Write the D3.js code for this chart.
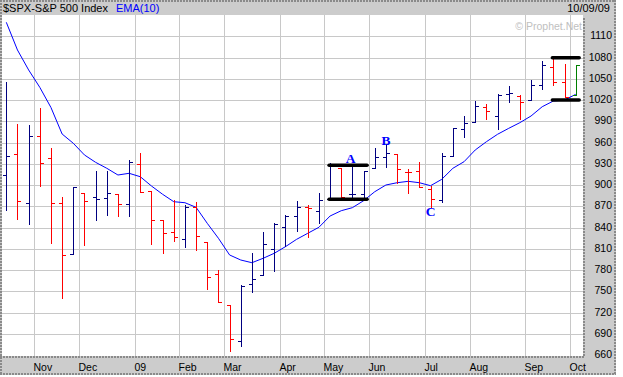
<!DOCTYPE html>
<html>
<head>
<meta charset="utf-8">
<script src="https://cdn.jsdelivr.net/npm/d3@7"></script>
<style>
  body { margin: 0; background: #fff; }
  svg { display: block; }
  text { font-family: "Liberation Sans", Arial, sans-serif; }
</style>
</head>
<body>
<div id="chart"></div>
<script>
// weekly bars, Oct 17 2008 .. Oct 9 2009
const opens  = [913.7, 943.3, 874.2, 968.8, 937.7, 874.2, 802.2, 888.3, 883.1, 881.6, 887.3, 872.8, 929.2, 891.1, 850.2, 833.2, 823.3, 869.4, 819.1, 774.4, 730.2, 679.8, 759.8, 772.5, 809.2, 840.3, 855.7, 869.4, 863.7, 879.8, 923.6, 887.3, 887.3, 923.6, 939.1, 943.8, 919.0, 920.2, 893.9, 878.8, 941.4, 978.6, 989.4, 1010.5, 997.8, 1028.0, 1025.6, 1019.6, 1041.2, 1066.2, 1045.0, 1027.1];
const highs  = [1045.0, 986.1, 984.7, 1008.7, 952.2, 883.5, 897.2, 888.3, 919.8, 919.8, 887.3, 935.3, 945.2, 891.1, 850.2, 878.8, 871.8, 876.0, 819.1, 780.0, 730.2, 758.8, 804.0, 833.6, 845.9, 857.6, 877.4, 871.8, 888.7, 930.6, 923.6, 927.8, 919.8, 951.8, 957.9, 943.8, 922.6, 932.0, 899.0, 944.7, 980.0, 997.4, 1018.6, 1014.4, 1028.5, 1039.8, 1027.1, 1048.2, 1075.1, 1078.9, 1070.8, 1069.4];
const lows   = [864.7, 852.4, 845.4, 899.0, 818.5, 740.9, 802.2, 815.7, 850.6, 857.6, 856.7, 856.7, 889.7, 817.1, 804.4, 821.4, 812.9, 807.8, 753.6, 734.8, 666.1, 673.1, 749.4, 772.5, 779.0, 813.9, 835.5, 827.0, 846.8, 879.8, 882.6, 882.6, 879.8, 923.6, 925.9, 902.4, 889.1, 896.8, 868.5, 875.6, 941.4, 968.2, 989.4, 992.8, 978.6, 1016.8, 992.8, 1019.6, 1035.1, 1041.2, 1023.8, 1027.1];
const closes = [940.5, 877.0, 968.8, 930.6, 874.2, 800.8, 897.2, 877.0, 879.8, 888.3, 872.8, 932.0, 889.7, 850.2, 831.8, 826.2, 869.4, 827.6, 770.1, 734.8, 683.0, 757.8, 767.7, 816.7, 844.9, 856.2, 869.4, 867.5, 878.8, 929.2, 882.6, 887.3, 919.8, 939.1, 944.7, 922.6, 918.5, 896.8, 879.8, 941.4, 980.0, 988.0, 1011.0, 1004.9, 1027.1, 1029.5, 1017.2, 1041.2, 1069.4, 1045.0, 1023.8, 1069.4];
const ema10  = [1129.7, 1090.6, 1062.4, 1037.9, 1009.4, 972.0, 958.9, 942.4, 932.0, 923.6, 914.1, 916.5, 911.7, 898.6, 886.9, 876.4, 875.0, 868.5, 845.9, 824.8, 801.2, 794.1, 790.3, 796.5, 803.6, 812.9, 823.3, 831.8, 840.3, 856.2, 863.7, 868.0, 877.8, 890.5, 900.0, 903.2, 905.2, 903.2, 899.0, 908.0, 923.6, 932.9, 949.4, 961.1, 971.6, 980.0, 988.0, 997.4, 1010.5, 1018.6, 1020.0, 1028.0];

// first weekly bar of each month, and its label
const monthLabels = ['Nov', 'Dec', '09', 'Feb', 'Mar', 'Apr', 'May', 'Jun', 'Jul', 'Aug', 'Sep', 'Oct'];
const monthStart  = [3, 7, 12, 16, 20, 25, 29, 33, 38, 42, 47, 51];
const priceTicks  = d3.range(660, 1111, 30);

// marked-up levels and letters
const levels  = [{ from: 29, to: 32, value: 928 }, { from: 29, to: 32, value: 880 },
                 { from: 49, to: 51, value: 1079.5 }, { from: 49, to: 51, value: 1020 }];
const letters = [{ text: 'A', at: 30.85, value: 930.5 }, { text: 'B', at: 34, value: 956.5 },
                 { text: 'C', at: 38, value: 856 }];

const W = 623, H = 377;
const plot = { left: 2, right: 583, top: 15, bottom: 356 };

const svg = d3.select('#chart').append('svg')
    .attr('width', W).attr('height', H);

svg.append('rect').attr('width', W).attr('height', H).attr('fill', '#fff');

// grey frame: header, right axis, bottom axis
svg.append('rect').attr('x', 0).attr('y', 0).attr('width', 616).attr('height', 375).attr('fill', '#cccccc');
svg.append('rect')
    .attr('x', plot.left).attr('y', plot.top)
    .attr('width', plot.right - plot.left).attr('height', plot.bottom - plot.top)
    .attr('fill', '#fff');

const x = d3.scaleLinear().domain([0, 51]).range([6.3, 575.7]);
const y = d3.scaleLinear().domain([660, 1140]).range([355, 15]);
const px = v => Math.round(v) + 0.5;

// grid
const grid = svg.append('g').attr('stroke', '#c8c8c8').attr('stroke-width', 1);
grid.selectAll('.hgrid').data(priceTicks.slice(1)).join('line')
    .attr('x1', plot.left).attr('x2', plot.right)
    .attr('y1', d => px(y(d))).attr('y2', d => px(y(d)));
grid.selectAll('.vgrid').data(monthStart).join('line')
    .attr('y1', plot.top).attr('y2', plot.bottom)
    .attr('x1', d => px(x(d - 0.5))).attr('x2', d => px(x(d - 0.5)));

// dotted borders
const dots = svg.append('g').attr('stroke', '#8a8a8a').attr('stroke-width', 2).attr('stroke-dasharray', '2,1');
dots.append('line').attr('x1', 0).attr('x2', 616).attr('y1', 1).attr('y2', 1);
dots.append('line').attr('x1', 1).attr('x2', 1).attr('y1', 0).attr('y2', 375);
dots.append('line').attr('x1', 0).attr('x2', 584).attr('y1', 357).attr('y2', 357);
dots.append('line').attr('x1', 584).attr('x2', 584).attr('y1', 18).attr('y2', 357);
dots.append('line').attr('x1', 615).attr('x2', 615).attr('y1', 0).attr('y2', 375);
dots.append('line').attr('x1', 0).attr('x2', 616).attr('y1', 374).attr('y2', 374);

// header
svg.append('text').attr('x', 3).attr('y', 12).attr('font-size', 11).attr('fill', '#000')
    .text('$SPX-S&P 500 Index');
svg.append('text').attr('x', 116).attr('y', 12).attr('font-size', 11).attr('fill', '#0000ff')
    .text('EMA(10)');
svg.append('text').attr('x', 610).attr('y', 12).attr('font-size', 11).attr('text-anchor', 'end')
    .text('10/09/09');
svg.append('text').attr('x', 582).attr('y', 30).attr('font-size', 10.5).attr('text-anchor', 'end')
    .attr('fill', '#c0c0c0').text('\u00A9 Prophet.Net');

// right price labels
svg.append('g').selectAll('text').data(priceTicks).join('text')
    .attr('x', 612).attr('y', d => y(d) + 3)
    .attr('text-anchor', 'end').attr('font-size', 10.5)
    .text(d => d);

// month labels
svg.append('g').selectAll('text').data(monthStart).join('text')
    .attr('x', d => Math.round(x(d - 0.5)) - 0.5).attr('y', 370.5)
    .attr('font-size', 10.5)
    .text((d, i) => monthLabels[i]);

// EMA(10)
svg.append('path')
    .datum(ema10)
    .attr('fill', 'none').attr('stroke', '#0000ff').attr('stroke-width', 1)
    .attr('d', d3.line().x((d, i) => x(i)).y(d => y(d)));

// OHLC bars
const barColor = i => {
    if (i === closes.length - 1) return '#008000';
    const ref = i === 0 ? opens[0] : closes[i - 1];
    return closes[i] >= ref ? '#000080' : '#ff0000';
};
const bars = svg.append('g').selectAll('g').data(d3.range(closes.length)).join('g')
    .attr('stroke', barColor).attr('stroke-width', 1);
bars.append('line')
    .attr('x1', i => px(x(i))).attr('x2', i => px(x(i)))
    .attr('y1', i => Math.round(y(highs[i]))).attr('y2', i => Math.round(y(lows[i])) + 1);
bars.append('line')
    .attr('x1', i => px(x(i)) - 3.5).attr('x2', i => px(x(i)))
    .attr('y1', i => px(y(opens[i]))).attr('y2', i => px(y(opens[i])));
bars.append('line')
    .attr('x1', i => px(x(i))).attr('x2', i => px(x(i)) + 3.5)
    .attr('y1', i => px(y(closes[i]))).attr('y2', i => px(y(closes[i])));

// black level lines
svg.append('g').selectAll('line').data(levels).join('line')
    .attr('x1', d => x(d.from) - 1).attr('x2', d => x(d.to) + 3.5)
    .attr('y1', d => y(d.value)).attr('y2', d => y(d.value))
    .attr('stroke', '#000').attr('stroke-width', 3.5).attr('stroke-linecap', 'round');

// letters
svg.append('g').selectAll('text').data(letters).join('text')
    .attr('x', d => x(d.at)).attr('y', d => y(d.value))
    .attr('text-anchor', 'middle')
    .style('font-family', '"Liberation Serif", "Times New Roman", serif')
    .attr('font-weight', 'bold').attr('font-size', 13.5)
    .attr('fill', '#0000ff')
    .text(d => d.text);
</script>
</body>
</html>
